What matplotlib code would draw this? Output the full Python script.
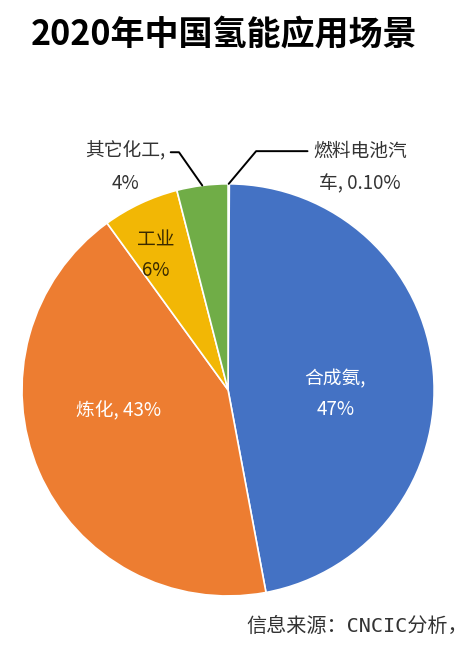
import numpy as np
import matplotlib.pyplot as plt

plt.rcParams['font.family'] = ['Noto Sans CJK SC', 'DejaVu Sans']

labels = ["燃料电池汽\n车, 0.10%", "合成氨,\n47%", "炼化, 43%", "工业\n6%", "其它化工,\n4%"]
values = [0.1, 47, 43, 6, 4]
colors = ["#9DC3E6", "#4472C4", "#ED7D31", "#F2B705", "#70AD47"]

fig = plt.figure(figsize=(4.71, 6.45), dpi=100)
fig.text(0.066, 0.945, "2020年中国氢能应用场景", fontsize=24.5, fontweight='bold',
         ha='left', va='center', color='black')

ax = fig.add_axes([0.0467, 0.076, 0.875, 0.639])
wedges, _ = ax.pie(values, colors=colors, startangle=90, counterclock=False,
                   radius=1, wedgeprops=dict(edgecolor='white', linewidth=1.2))
ax.set_xlim(-1, 1)
ax.set_ylim(-1, 1)
ax.set_aspect('equal')
ax.axis('off')

def edge_point(w, r=1.0):
    ang = np.deg2rad((w.theta1 + w.theta2) / 2)
    return r * np.cos(ang), r * np.sin(ang)

fs = 13.5
# inside labels
ax.text(0.52, -0.02, labels[1], color='white', fontsize=fs, ha='center', va='center', linespacing=1.6)
ax.text(-0.53, -0.10, labels[2], color='white', fontsize=fs, ha='center', va='center')
ax.text(-0.35, 0.655, labels[3], color='#3a2a00', fontsize=fs, ha='center', va='center', linespacing=1.6)

# outside labels with leader lines
ax.annotate(labels[4], xy=edge_point(wedges[4]), xytext=(-0.5, 1.08),
            fontsize=fs, ha='center', va='center', linespacing=1.75, color='#333333',
            annotation_clip=False,
            arrowprops=dict(arrowstyle='-', color='black', lw=1.4,
                            relpos=(1.0, 0.78), shrinkA=2, shrinkB=0,
                            connectionstyle='angle,angleA=0,angleB=-55,rad=0'))
ax.annotate(labels[0], xy=edge_point(wedges[0]), xytext=(0.64, 1.08),
            fontsize=fs, ha='center', va='center', linespacing=1.75, color='#333333',
            annotation_clip=False,
            arrowprops=dict(arrowstyle='-', color='black', lw=1.4,
                            relpos=(0.0, 0.8), shrinkA=2, shrinkB=0,
                            connectionstyle='angle,angleA=180,angleB=-130,rad=0'))

fig.text(0.524, 0.014, "信息来源：CNCIC分析，", fontsize=14.5, ha='left', va='bottom',
         color='#333333', family=['DejaVu Sans Mono', 'Noto Sans CJK SC'])

fig.savefig("out.png", dpi=100, facecolor='white')
